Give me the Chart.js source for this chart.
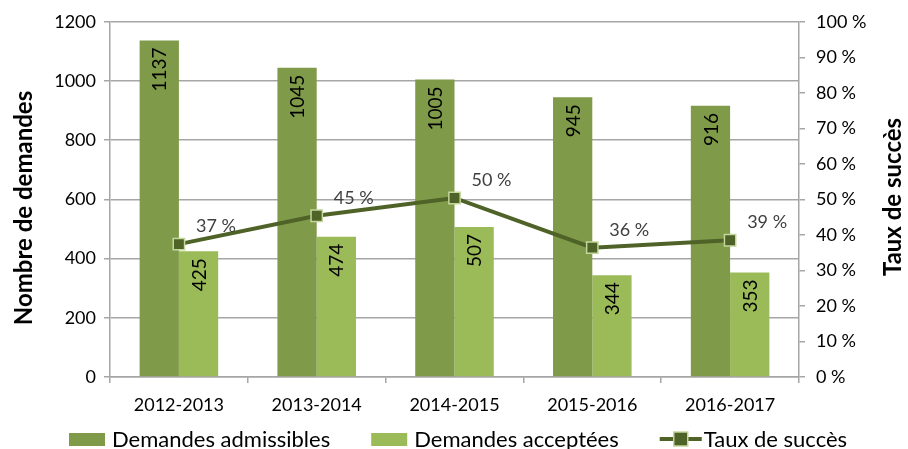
<!DOCTYPE html>
<html>
<head>
<meta charset="utf-8">
<script src="https://cdn.jsdelivr.net/npm/chart.js@4/dist/chart.umd.min.js"></script>
<style>
  html, body { margin: 0; padding: 0; background: #fff; }
  #wrap { position: relative; width: 908px; height: 449px; }
</style>
</head>
<body>
<div id="wrap"><canvas id="c" width="908" height="449"></canvas></div>
<script>
// --- données ---
var categories = ['2012-2013', '2013-2014', '2014-2015', '2015-2016', '2016-2017'];
var admissibles = [1137, 1045, 1005, 945, 916];
var acceptees = [425, 474, 507, 344, 353];
var tauxSucces = [37.4, 45.4, 50.4, 36.4, 38.5];
var leftMax = 1200, leftStep = 200;
var rightMax = 100, rightStep = 10;

var FONT = "Lato, 'Open Sans', sans-serif";
var C_ADM = '#7F9A48', C_ACC = '#9BBB59', C_LINE = '#4F6228', C_MARK_BORDER = '#C3D69B';
var GRID = '#A6A6A6';

var legendItems = [
  { text: 'Demandes admissibles', kind: 'box', color: C_ADM },
  { text: 'Demandes acceptées', kind: 'box', color: C_ACC },
  { text: 'Taux de succès', kind: 'line', color: C_LINE }
];

/* étiquettes, titres d'axes et légende dessinés à la main */
var decorations = {
  id: 'decorations',
  afterDatasetsDraw: function (chart) {
    var ctx = chart.ctx;
    ctx.save();
    // valeurs des barres, verticales, dans le haut de la barre
    [0, 1].forEach(function (di) {
      var meta = chart.getDatasetMeta(di);
      var vals = chart.data.datasets[di].data;
      meta.data.forEach(function (bar, i) {
        ctx.save();
        ctx.translate(bar.x, bar.y + 7);
        ctx.rotate(-Math.PI / 2);
        ctx.font = '19px ' + FONT;
        ctx.fillStyle = '#000';
        ctx.textAlign = 'right';
        ctx.textBaseline = 'middle';
        ctx.fillText(String(vals[i]), 0, 1);
        ctx.restore();
      });
    });
    // pourcentages de la courbe
    var lm = chart.getDatasetMeta(2);
    ctx.font = '18px ' + FONT;
    ctx.fillStyle = '#404040';
    ctx.textAlign = 'center';
    ctx.textBaseline = 'middle';
    lm.data.forEach(function (pt, i) {
      ctx.fillText(Math.round(tauxSucces[i]) + ' %', pt.x + 37, pt.y - 18);
    });
    ctx.restore();
  },
  afterDraw: function (chart) {
    var ctx = chart.ctx;
    ctx.save();
    // titres des axes (les deux se lisent de bas en haut)
    ctx.font = 'bold 24px ' + FONT;
    ctx.fillStyle = '#000';
    ctx.textAlign = 'center';
    ctx.textBaseline = 'middle';
    ctx.save(); ctx.translate(24, 208); ctx.rotate(-Math.PI / 2);
    ctx.fillText('Nombre de demandes', 0, 0); ctx.restore();
    ctx.save(); ctx.translate(893, 197); ctx.rotate(-Math.PI / 2);
    ctx.fillText('Taux de succès', 0, 0); ctx.restore();

    // légende (départ à gauche comme dans l'original)
    ctx.font = '22px ' + FONT;
    var boxW = 36, gap = 7, spacing = 41, y = 439;
    var x = 69;
    ctx.textAlign = 'left';
    legendItems.forEach(function (it) {
      var tx = x + boxW + gap;
      if (it.kind === 'box') {
        ctx.fillStyle = it.color;
        ctx.fillRect(x, y - 6, boxW, 13);
      } else {
        ctx.strokeStyle = it.color; ctx.lineWidth = 4;
        ctx.beginPath(); ctx.moveTo(x, y); ctx.lineTo(x + 42, y); ctx.stroke();
        ctx.fillStyle = it.color; ctx.fillRect(x + 21 - 7, y - 7, 14, 14);
        ctx.strokeStyle = C_MARK_BORDER; ctx.lineWidth = 1.5;
        ctx.strokeRect(x + 21 - 7, y - 7, 14, 14);
        tx = x + 44;
      }
      ctx.fillStyle = '#000';
      ctx.fillText(it.text, tx, y + 1);
      x = tx + ctx.measureText(it.text).width + spacing;
    });
    ctx.restore();
  }
};

new Chart(document.getElementById('c'), {
  data: {
    labels: categories,
    datasets: [
      { type: 'bar', label: 'Demandes admissibles', data: admissibles, backgroundColor: C_ADM,
        yAxisID: 'y', order: 2, categoryPercentage: 0.57, barPercentage: 1 },
      { type: 'bar', label: 'Demandes acceptées', data: acceptees, backgroundColor: C_ACC,
        yAxisID: 'y', order: 2, categoryPercentage: 0.57, barPercentage: 1 },
      { type: 'line', label: 'Taux de succès', data: tauxSucces, yAxisID: 'y1', order: 0,
        borderColor: C_LINE, borderWidth: 4, tension: 0,
        pointStyle: 'rect', pointRadius: 8, pointBackgroundColor: C_LINE,
        pointBorderColor: C_MARK_BORDER, pointBorderWidth: 1.5 }
    ]
  },
  options: {
    responsive: false, animation: false,
    layout: { padding: { top: 19, left: 0, right: 0, bottom: 0 } },
    plugins: { legend: { display: false }, tooltip: { enabled: false } },
    scales: {
      x: {
        offset: true,
        grid: { offset: true, drawOnChartArea: false, drawTicks: true, tickLength: 6, color: GRID, lineWidth: 1.5 },
        border: { color: GRID, width: 1.5 },
        ticks: { color: '#000', font: { family: FONT, size: 18 }, padding: 11, maxRotation: 0 },
        afterFit: function (s) { s.height = 72; }
      },
      y: {
        position: 'left', min: 0, max: leftMax,
        grid: { color: GRID, lineWidth: 1.5, tickLength: 6 },
        border: { color: GRID, width: 1.5 },
        ticks: { stepSize: leftStep, color: '#000', font: { family: FONT, size: 18 }, padding: 8,
          callback: function (v) { return String(v); } },
        afterFit: function (s) { s.width = 110; }
      },
      y1: {
        position: 'right', min: 0, max: rightMax,
        grid: { drawOnChartArea: false, tickLength: 6, color: GRID, lineWidth: 1.5 },
        border: { color: GRID, width: 1.5 },
        ticks: { stepSize: rightStep, color: '#000', font: { family: FONT, size: 18 }, padding: 11,
          callback: function (v) { return v + ' %'; } },
        afterFit: function (s) { s.width = 109; }
      }
    }
  },
  plugins: [decorations]
});
</script>
</body>
</html>
